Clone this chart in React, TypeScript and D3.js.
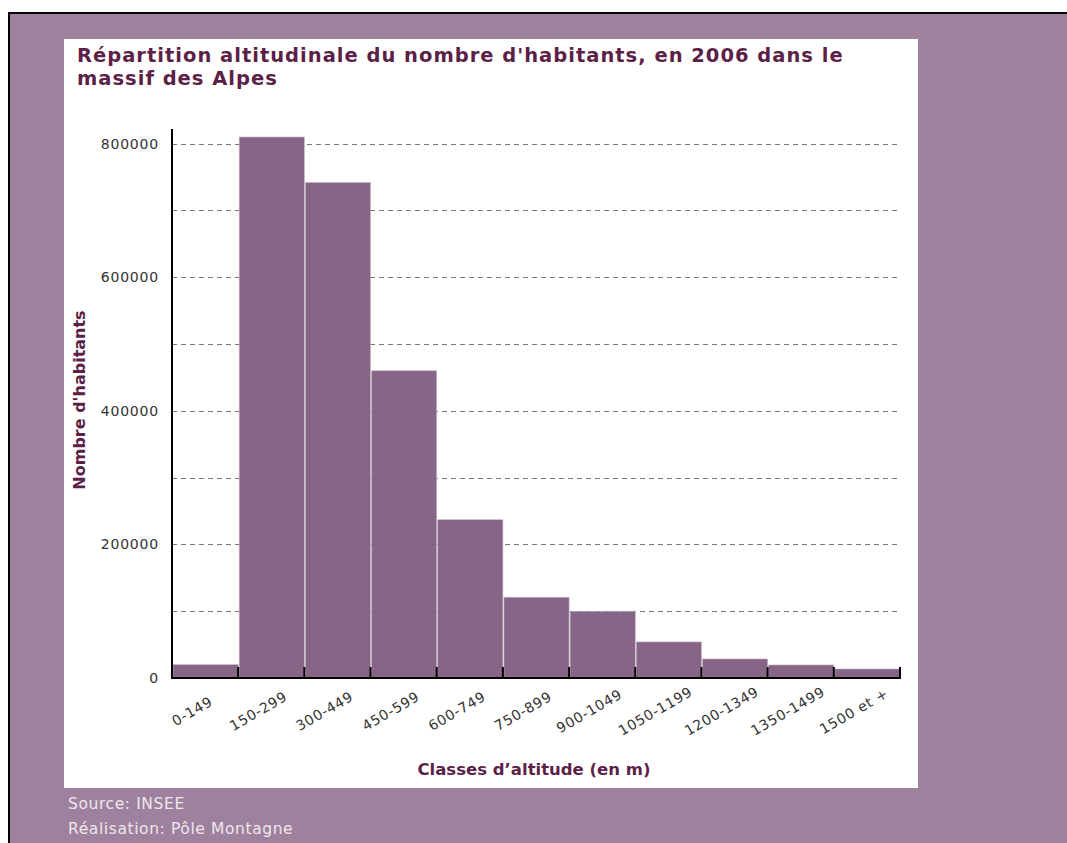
import React from "react";
import * as d3 from "d3";

const categories = ["0-149", "150-299", "300-449", "450-599", "600-749", "750-899", "900-1049", "1050-1199", "1200-1349", "1350-1499", "1500 et +"];
const habitants = [20000, 810000, 742000, 460000, 237000, 121000, 100000, 54000, 28500, 19500, 13500];
const yTickLabels = [0, 200000, 400000, 600000, 800000];
const gridValues = [100000, 200000, 300000, 400000, 500000, 600000, 700000, 800000];
const titleLines = ["Répartition altitudinale du nombre d'habitants, en 2006 dans le", "massif des Alpes"];
const sourceLines = ["Source: INSEE", "Réalisation: Pôle Montagne"];

const W = 1067;
const H = 843;
const BG = "#9e829d";
const BAR = "#876586";
const DARK = "#5c1f47";
const FONT = "'DejaVu Sans', Verdana, sans-serif";

export default function App() {
  const x0 = 172, x1 = 900, yBase = 678, yTop = 127;
  const x = d3.scaleBand<string>().domain(categories).range([x0, x1]).padding(0);
  const y = d3.scaleLinear().domain([0, 825000]).range([yBase, yTop]);
  const bw = x.bandwidth();
  const boundaries = categories.map((c) => x(c) as number).concat([x1]);

  return (
    <svg width={W} height={H} style={{ position: "absolute", left: 0, top: 0, display: "block" }} fontFamily={FONT}>
      <rect x={0} y={0} width={W} height={H} fill="#ffffff" />
      <rect x={8} y={12} width={W - 8} height={H - 12} fill={BG} />
      <line x1={8} y1={13} x2={W} y2={13} stroke="#000" strokeWidth={2} />
      <line x1={9} y1={12} x2={9} y2={H} stroke="#000" strokeWidth={2} />
      <rect x={64} y={39} width={854} height={749} fill="#ffffff" />

      {titleLines.map((t, i) => (
        <text key={i} x={77} y={62 + i * 23} fontSize={19.5} letterSpacing={1} fontWeight="bold" fill={DARK}>{t}</text>
      ))}

      {gridValues.map((v) => (
        <line key={v} x1={x0} x2={x1} y1={Math.round(y(v)) + 0.5} y2={Math.round(y(v)) + 0.5} stroke="#777" strokeWidth={1} strokeDasharray="5,4" />
      ))}

      {categories.map((c, i) => (
        <rect key={c} x={(x(c) as number) + 1} y={y(habitants[i])} width={bw - 1} height={yBase - y(habitants[i])} fill={BAR} stroke="#c9b6c8" strokeWidth={0.6} />
      ))}

      {boundaries.map((b, i) => (
        <line key={i} x1={b} x2={b} y1={yBase} y2={yBase - 11} stroke="#000" strokeWidth={2} />
      ))}

      <line x1={x0} x2={x0} y1={yTop + 2} y2={yBase + 1} stroke="#000" strokeWidth={2} />
      <line x1={x0 - 1} x2={x1 + 1} y1={yBase} y2={yBase} stroke="#000" strokeWidth={2} />

      {yTickLabels.map((v) => (
        <text key={v} x={159} y={y(v)} dy="0.36em" textAnchor="end" fontSize={14} letterSpacing={0.8} fill="#333">{v}</text>
      ))}

      {categories.map((c) => (
        <text key={c} transform={`translate(${(x(c) as number) + bw / 2 - 13},${711}) rotate(-30)`} textAnchor="middle" dy="0.36em" fontSize={14} letterSpacing={0.7} fill="#333">{c}</text>
      ))}

      <text x={534} y={775} textAnchor="middle" fontSize={16.5} fontWeight="bold" fill={DARK}>Classes d’altitude (en m)</text>
      <text transform={`translate(85,400) rotate(-90)`} textAnchor="middle" fontSize={16} fontWeight="bold" fill={DARK}>Nombre d'habitants</text>

      {sourceLines.map((t, i) => (
        <text key={i} x={68} y={809 + i * 25} fontSize={15.5} letterSpacing={0.6} fill="#efe6ee">{t}</text>
      ))}
    </svg>
  );
}
